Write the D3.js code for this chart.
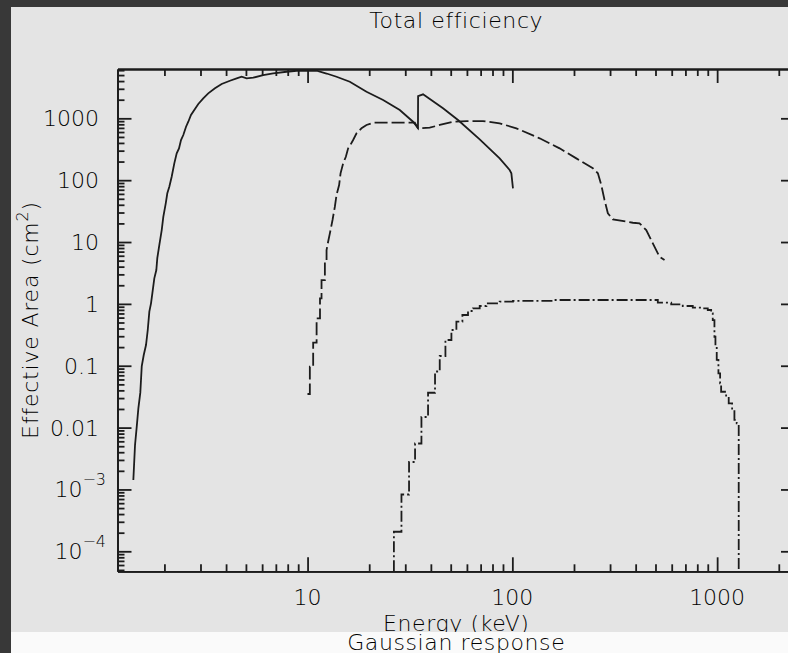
<!DOCTYPE html>
<html><head><meta charset="utf-8">
<script src="https://cdn.jsdelivr.net/npm/d3@7"></script>
<style>html,body{margin:0;padding:0;background:#383838;overflow:hidden}svg{display:block}</style>
</head><body>
<svg id="c" width="788" height="653"></svg>
<script>
// ---------- data ----------
const solidX = [1.41,1.437,1.465,1.492,1.525,1.55,1.585,1.626,1.658,1.688,1.72,1.746,1.785,1.826,1.846,1.889,1.94,1.975,2.03,2.066,2.113,2.17,2.235,2.296,2.356,2.41,2.473,2.55,2.616,2.696,2.798,2.927,3.095,3.274,3.53,3.807,4.178,4.505,4.765,5.04,5.43,6.07,6.795,7.9,8.84,11.07,12.38,13.85,16.08,19.4,23.38,28.2,32.74,34.6,34.65,36.64,45.86,54.28,69.28,86.7,97,98.9,100.7];
const solidY = [1.42e-3,5.24e-3,0.01035,0.0205,0.0367,0.099,0.149,0.216,0.378,0.748,1.02,1.48,2.59,3.53,5.5,9,15.6,25.6,42.2,61.3,78.4,113.7,187,272,327,446,537,731,881,1130,1360,1702,2105,2534,3054,3585,4053,4433,4703,4433,4533,5010,5335,5663,5877,5877,5300,4700,3900,2692,1977,1362,881,700,2292,2443,1452,939,457,225,146,129,73.8];

const dashX = [9.99,10.26,10.26,10.65,10.65,11.07,11.07,11.5,11.5,11.7,11.7,12.15,12.15,12.38,12.38,12.6,12.85,13.24,13.59,13.85,14.26,14.49,14.92,15.38,15.78,16.08,16.69,17.34,18.34,19.4,20.89,28.2,33.4,34.6,39.5,44.2,51.3,60,71.9,86.7,104.6,135.9,170.1,205.3,247.3,261.6,271.8,281.9,292.7,309.6,387.6,417.8,450.6,485.3,523.1,553.4];
const dashY = [0.0349,0.0349,0.0965,0.0965,0.236,0.236,0.585,0.585,1.23,1.23,2.43,2.43,4.8,4.8,7.43,10.1,13.8,22.7,37.2,57.5,83.5,129,187,239,327,357,446,572,689,780,849,849,849,689,705,780,881,900,904,830,689,475,327,225,156,129,83.5,47.8,29.1,23.3,20.5,20.1,15.6,9.5,5.79,5.12];

const gaussX = [26.4,26.4,28.74,31.3,33.49,35.98,38.76,41.92,44.2,47.12,50.4,53.3,57.03,60.74,64.25,69.28,74.7,86.7,100.7,157.8,266.6,417.8,513.2,596.6,679.4,760.3,850.7,899.9,934.9,951.9,970.1,981.1,995.5,1014.6,1034,1045.9,1106.3,1139,1183.5,1214.4,1246.2,1274.6];
const gaussY = [4.75e-5,2.07e-4,8.28e-4,2.78e-3,5.53e-3,0.01483,0.0366,0.0807,0.1436,0.2606,0.3783,0.5153,0.661,0.767,0.848,0.924,1.021,1.084,1.12,1.155,1.155,1.155,1.045,0.984,0.924,0.867,0.848,0.796,0.704,0.548,0.294,0.203,0.124,0.0755,0.052,0.038,0.0316,0.0247,0.0192,0.0133,0.0117,4.75e-5];

const xDomain = [1.18, 2400];
const yDomain = [4.75e-5, 6270];
const xMajorTicks = [10, 100, 1000];
const xTickLabels = ["10", "100", "1000"];
const yMajorTicks = [1e-4, 1e-3, 0.01, 0.1, 1, 10, 100, 1000];
const yTickLabels = ["10^-4", "10^-3", "0.01", "0.1", "1", "10", "100", "1000"];
const titleText = "Total efficiency";
const xLabelText = "Energy (keV)";
const yLabelMain = "Effective Area (cm";
const yLabelSup = "2";
const nextTitleText = "Gaussian response";

// ---------- layout ----------
const W = 788, H = 653;
const P = {left: 117.5, right: 795, top: 69, bottom: 571.3};
const FONT = "'DejaVu Sans', sans-serif";
const FS = 22;
const INK = "#1c1c1c";
const TXT = "#000";

const svg = d3.select("#c");
svg.append("rect").attr("width", W).attr("height", H).attr("fill", "#383838");
svg.append("rect").attr("x", 11).attr("y", 7).attr("width", W - 11).attr("height", 625).attr("fill", "#e4e4e4");

const x = d3.scaleLog().domain(xDomain).range([P.left, P.right]);
const y = d3.scaleLog().domain(yDomain).range([P.bottom, P.top]);

svg.append("defs").append("clipPath").attr("id", "clip")
  .append("rect").attr("x", P.left).attr("y", P.top)
  .attr("width", P.right - P.left).attr("height", P.bottom - P.top);

// ---------- curves ----------
function series(xs, ys) { return xs.map((v, i) => [v, ys[i]]); }
const plotG = svg.append("g").attr("clip-path", "url(#clip)");
const lineLin = d3.line().x(d => x(d[0])).y(d => y(d[1]));
const lineStep = d3.line().x(d => x(d[0])).y(d => y(d[1])).curve(d3.curveStepAfter);

plotG.append("path").datum(series(solidX, solidY)).attr("d", lineLin)
  .attr("fill", "none").attr("stroke", INK).attr("stroke-width", 1.8);
plotG.append("path").datum(series(dashX, dashY)).attr("d", lineLin)
  .attr("fill", "none").attr("stroke", INK).attr("stroke-width", 1.8)
  .attr("stroke-dasharray", "13,4");
plotG.append("path").datum(series(gaussX, gaussY)).attr("d", lineStep)
  .attr("fill", "none").attr("stroke", INK).attr("stroke-width", 1.8)
  .attr("stroke-dasharray", "11,3,2,3");

// ---------- axes ----------
const xMinor = x.ticks().filter(v => !xMajorTicks.some(m => Math.abs(m - v) / m < 1e-9));
const yMinor = y.ticks().filter(v => !yMajorTicks.some(m => Math.abs(m - v) / m < 1e-9));

function styleAxis(g) {
  g.selectAll("path.domain").attr("stroke", INK).attr("stroke-width", 1.8);
  g.selectAll(".tick line").attr("stroke", INK).attr("stroke-width", 1.8);
  g.selectAll(".tick text").remove();
}
function addAxis(gen, tx, ty, values, size) {
  const g = svg.append("g").attr("transform", `translate(${tx},${ty})`)
    .call(gen.tickValues(values).tickSize(size).tickSizeOuter(0).tickFormat(""));
  styleAxis(g);
  return g;
}
addAxis(d3.axisBottom(x), 0, P.bottom, xMinor, -7);
addAxis(d3.axisBottom(x), 0, P.bottom, xMajorTicks, -14);
addAxis(d3.axisTop(x), 0, P.top, xMinor, -7);
addAxis(d3.axisTop(x), 0, P.top, xMajorTicks, -14);
addAxis(d3.axisLeft(y), P.left, 0, yMinor, -7);
addAxis(d3.axisLeft(y), P.left, 0, yMajorTicks, -14);
addAxis(d3.axisRight(y), P.right, 0, yMinor, -7);
addAxis(d3.axisRight(y), P.right, 0, yMajorTicks, -14);

// ---------- tick labels ----------
const txt = svg.append("g").attr("font-family", FONT).attr("font-size", FS)
  .attr("font-weight", 200).attr("fill", TXT);

txt.selectAll("text.xl").data(xMajorTicks).join("text").attr("class", "xl")
  .attr("x", d => x(d)).attr("y", P.bottom + 34).attr("text-anchor", "middle")
  .text((d, i) => xTickLabels[i]);

yMajorTicks.forEach((v, i) => {
  const lab = yTickLabels[i];
  const parts = lab.split("^");
  const t = txt.append("text").attr("text-anchor", "end")
    .attr("x", parts.length > 1 ? 106 : 99).attr("y", y(v) + 8);
  t.append("tspan").text(parts[0]);
  if (parts.length > 1) {
    t.append("tspan").attr("dy", -12).attr("font-size", 16).text(parts[1].replace("-", "\u2212"));
  }
});

// ---------- titles ----------
const cx = (P.left + P.right) / 2;
txt.append("text").attr("x", cx).attr("y", 28).attr("text-anchor", "middle")
  .attr("letter-spacing", 0.6).text(titleText);
txt.append("text").attr("x", cx).attr("y", 631).attr("text-anchor", "middle")
  .attr("letter-spacing", 0.6).text(xLabelText);

const yl = txt.append("text").attr("transform", "translate(38,320) rotate(-90)")
  .attr("text-anchor", "middle").attr("letter-spacing", 0.8);
yl.append("tspan").text(yLabelMain);
yl.append("tspan").attr("dy", -10).attr("font-size", 16).text(yLabelSup);
yl.append("tspan").attr("dy", 10).text(")");

// next panel strip
svg.append("rect").attr("x", 11).attr("y", 632).attr("width", W - 11).attr("height", H - 632).attr("fill", "#fafafa");
svg.append("text").attr("x", cx).attr("y", 650).attr("text-anchor", "middle")
  .attr("font-family", FONT).attr("font-size", FS).attr("font-weight", 200).attr("fill", TXT)
  .attr("letter-spacing", 0.6).text(nextTitleText);
</script>
</body></html>
